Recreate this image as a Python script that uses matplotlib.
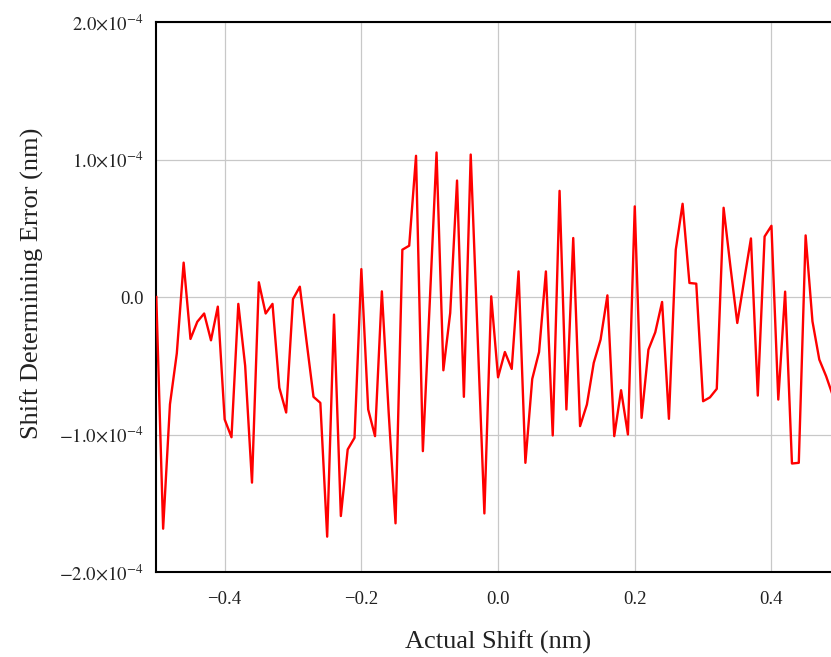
import matplotlib
matplotlib.use("Agg")
import matplotlib.pyplot as plt
import numpy as np

# Actual shift (nm)
shift = [round(-0.50 + 0.01 * i, 2) for i in range(101)]
# Shift determining error, in units of 1e-4 nm
error_e4 = [
    0.000, -1.685, -0.780, -0.410, 0.250, -0.305, -0.180, -0.120, -0.315, -0.070,   # -0.50 .. -0.41
    -0.890, -1.020, -0.050, -0.500, -1.350, 0.107, -0.120, -0.050, -0.660, -0.840,  # -0.40 .. -0.31
    -0.015, 0.075, -0.330, -0.726, -0.770, -1.743, -0.128, -1.593, -1.109, -1.024,  # -0.30 .. -0.21
    0.203, -0.818, -1.012, 0.041, -0.843, -1.646, 0.344, 0.373, 1.027, -1.121,      # -0.20 .. -0.11
    -0.050, 1.051, -0.533, -0.116, 0.847, -0.726, 1.036, -0.270, -1.574, 0.005,     # -0.10 .. -0.01
    -0.584, -0.400, -0.523, 0.186, -1.206, -0.596, -0.400, 0.186, -1.007, 0.772,    # 0.00 .. 0.09
    -0.818, 0.429, -0.939, -0.782, -0.479, -0.310, 0.012, -1.012, -0.678, -1.000,   # 0.10 .. 0.19
    0.659, -0.879, -0.383, -0.257, -0.036, -0.886, 0.344, 0.678, 0.102, 0.097,      # 0.20 .. 0.29
    -0.758, -0.730, -0.668, 0.649, 0.220, -0.189, 0.120, 0.426, -0.717, 0.440,      # 0.30 .. 0.39
    0.518, -0.746, 0.039, -1.211, -1.206, 0.448, -0.177, -0.455, -0.576, -0.720,    # 0.40 .. 0.49
    -0.850,                                                                         # 0.50
]
error = [v * 1e-4 for v in error_e4]

x_ticks = [-0.4, -0.2, 0.0, 0.2, 0.4]
x_tick_labels = ["\u22120.4", "\u22120.2", "0.0", "0.2", "0.4"]
y_ticks = [-2e-4, -1e-4, 0.0, 1e-4, 2e-4]
y_tick_labels = [r"$-2.0{\times}10^{-4}$", r"$-1.0{\times}10^{-4}$", "0.0",
                 r"$1.0{\times}10^{-4}$", r"$2.0{\times}10^{-4}$"]

plt.rcParams["font.family"] = ["Liberation Serif", "DejaVu Serif"]
plt.rcParams["mathtext.fontset"] = "stix"

fig = plt.figure(figsize=(8.31, 6.57), dpi=100)
ax = fig.add_axes([156.3 / 831, 85 / 657, 683.5 / 831, 550 / 657])

ax.plot(shift, error, color="#ff0000", linewidth=1.7, zorder=3)

ax.set_xlim(-0.5, 0.5)
ax.set_ylim(-2e-4, 2e-4)
ax.set_xticks(x_ticks)
ax.set_xticklabels(x_tick_labels)
ax.set_yticks(y_ticks)
ax.set_yticklabels(y_tick_labels)
ax.tick_params(axis="both", length=0, labelsize=13.5, colors="#222222")
ax.tick_params(axis="x", pad=14)
ax.tick_params(axis="y", pad=9)
ax.grid(True, color="#c8c8c8", linewidth=0.9)
for s in ["left", "bottom", "top"]:
    ax.spines[s].set_linewidth(1.5)
    ax.spines[s].set_color("black")
ax.spines["right"].set_visible(False)

ax.set_xlabel("Actual Shift (nm)", fontsize=19, color="#222222", labelpad=16)
ax.set_ylabel("Shift Determining Error (nm)", fontsize=19, color="#222222")
ax.yaxis.set_label_coords(-0.165, 0.525)

fig.savefig("out.png", dpi=100)
